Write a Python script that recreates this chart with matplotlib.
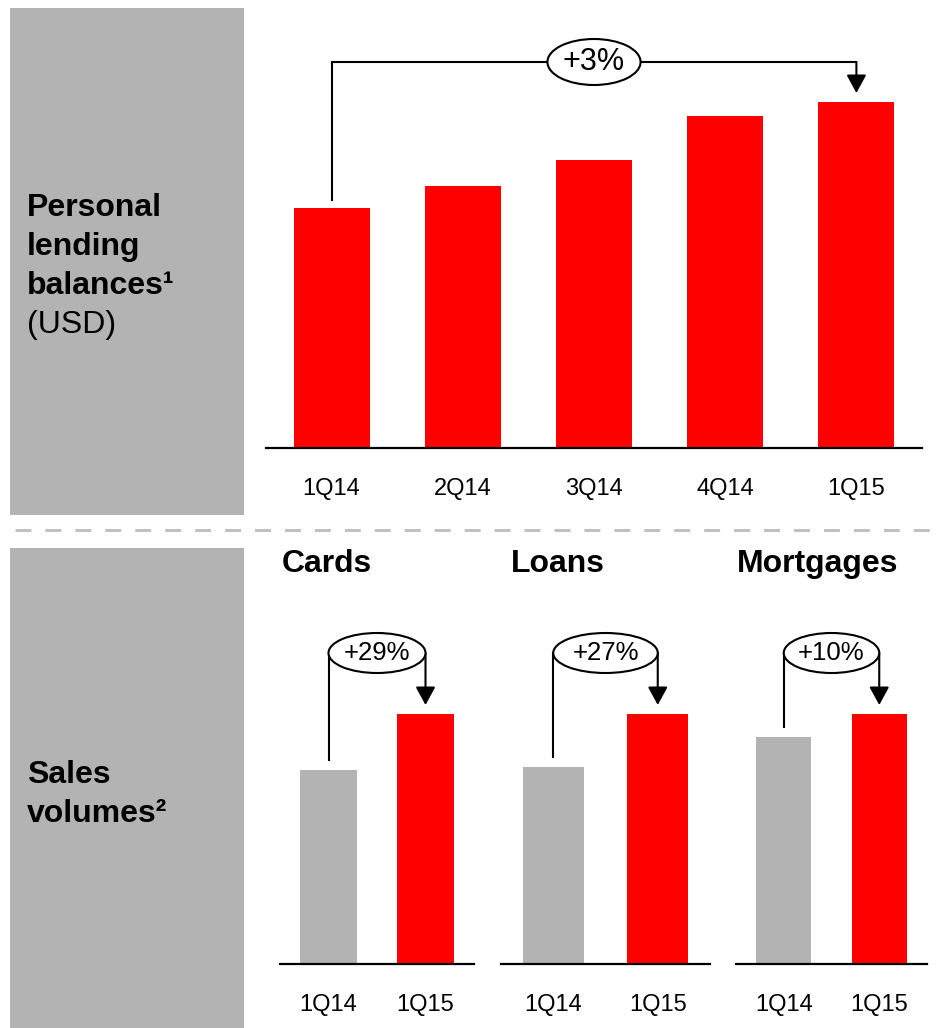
import matplotlib
matplotlib.use('Agg')
import matplotlib.pyplot as plt
from matplotlib.patches import Rectangle, Ellipse
from matplotlib.lines import Line2D

plt.rcParams['font.family'] = ['Liberation Sans', 'DejaVu Sans']

# Personal lending balances by quarter
quarters = ['1Q14', '2Q14', '3Q14', '4Q14', '1Q15']
balances = [24.0, 26.2, 28.8, 33.2, 34.6]
balance_change = '+3%'

# Sales volumes, 1Q14 indexed to 100
products = ['Cards', 'Loans', 'Mortgages']
periods = ['1Q14', '1Q15']
sales_1q14 = [100, 100, 100]
sales_1q15 = [129, 127, 110]

RED = '#FF0000'
GREY = '#B3B3B3'
W, H = 943, 1028

fig = plt.figure(figsize=(W / 100, H / 100), dpi=100)


def px_axes(left, top, right, bottom):
    return fig.add_axes([left / W, 1 - bottom / H, (right - left) / W, (bottom - top) / H])


def fx(x):
    return x / W


def fy(y):
    return 1 - y / H


def style_axes(ax, labels, pad):
    for s in ['top', 'left', 'right']:
        ax.spines[s].set_visible(False)
    ax.spines['bottom'].set_linewidth(1.6)
    ax.set_yticks([])
    ax.set_xticks(range(len(labels)))
    ax.set_xticklabels(labels, fontsize=17)
    ax.tick_params(axis='x', length=0, pad=pad)
    ax.patch.set_alpha(0)


def arrow_down(ax, x, y0, y1):
    ax.annotate('', xy=(x, y1), xytext=(x, y0),
                arrowprops=dict(arrowstyle='-|>,head_length=0.55,head_width=0.3',
                                mutation_scale=20, lw=1.5, color='black',
                                shrinkA=0, shrinkB=0),
                annotation_clip=False)


# grey side panels
fig.add_artist(Rectangle((fx(10), fy(515)), fx(234), 507 / H, transform=fig.transFigure,
                         facecolor=GREY, edgecolor='none'))
fig.add_artist(Rectangle((fx(10), fy(1028)), fx(234), 480 / H, transform=fig.transFigure,
                         facecolor=GREY, edgecolor='none'))

# dashed separator
fig.add_artist(Line2D([fx(15), fx(943)], [fy(530), fy(530)], transform=fig.transFigure,
                      color='#C0C0C0', lw=2.2, dashes=(5.2, 4.6)))

# side labels
for i, line in enumerate(['Personal', 'lending', 'balances¹']):
    fig.text(fx(27), fy(216 + 39 * i), line, fontsize=23, fontweight='bold', va='baseline')
fig.text(fx(27), fy(333), '(USD)', fontsize=23, va='baseline')
fig.text(fx(27), fy(783), 'Sales', fontsize=23, fontweight='bold', va='baseline')
fig.text(fx(27), fy(822), 'volumes²', fontsize=23, fontweight='bold', va='baseline')

# top chart: balances
ax = px_axes(266, 30, 922, 448)
x = range(len(quarters))
ax.bar(x, balances, width=0.58, color=RED)
ax.set_xlim(-0.5, len(quarters) - 0.5)
ax.set_ylim(0, 41.8)
style_axes(ax, quarters, 21.5)

top = 38.6
last = len(quarters) - 1
ax.plot([0, 0, last], [balances[0] + 0.8, top, top], color='black', lw=1.5,
        clip_on=False, solid_joinstyle='miter')
arrow_down(ax, last, top, balances[-1] + 0.9)
ax.add_patch(Ellipse((2.0, top), 0.71, 4.6, facecolor='white', edgecolor='black',
                     lw=1.5, zorder=5, clip_on=False))
ax.text(2.0, top, balance_change, fontsize=22, ha='center', va='center', zorder=6)

# bottom charts: sales volumes
bounds = [(280, 474), (501, 710), (736, 927)]
title_x = [282, 511, 737]
for name, (l, r), tx, a, b in zip(products, bounds, title_x, sales_1q14, sales_1q15):
    ax = px_axes(l, 600, r, 964)
    ax.bar([0, 1], [a, b], width=0.58, color=[GREY, RED])
    ax.set_xlim(-0.5, 1.5)
    ax.set_ylim(0, b * 364 / 250)
    style_axes(ax, periods, 21.5)

    ey = b * 1.244
    ax.plot([0, 0], [a + b * 0.04, ey], color='black', lw=1.5, clip_on=False)
    arrow_down(ax, 1, ey, b * 1.036)
    ax.add_patch(Ellipse((0.5, ey), 1.0, b * 0.16, facecolor='white', edgecolor='black',
                         lw=1.5, zorder=5, clip_on=False))
    pct = round((b / a - 1) * 100)
    ax.text(0.5, ey, f'+{pct}%', fontsize=18.5, ha='center', va='center', zorder=6)

    fig.text(fx(tx), fy(572), name, fontsize=23, fontweight='bold', va='baseline')

fig.savefig('out.png', dpi=100)
